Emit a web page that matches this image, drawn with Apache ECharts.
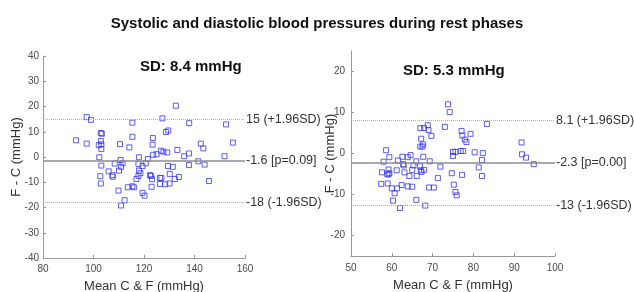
<!DOCTYPE html>
<html>
<head>
<meta charset="utf-8">
<script src="https://cdn.jsdelivr.net/npm/echarts@6/dist/echarts.min.js"></script>
<style>
  html, body { margin: 0; padding: 0; background: #fff; }
  #chart { width: 634px; height: 292px; }
</style>
</head>
<body>
<div id="chart"></div>
<script>
// systolic: mean of C & F vs difference F - C
var sysMean = [93.1, 97.3, 99.0, 97.3, 102.9, 103.3, 102.9, 102.1, 103.1, 103.1, 102.3, 103.1, 102.7, 102.9,
  106.0, 107.5, 107.6, 108.4, 109.9, 110.5, 110.7, 111.5, 110.9, 110.1, 114.2, 115.4, 115.4, 113.6, 115.4,
  116.0, 112.3, 110.9, 118.0, 117.8, 119.4, 120.7, 121.5, 118.0, 118.6, 117.8, 117.0, 119.4, 120.2, 123.0,
  122.4, 122.8, 123.2, 123.5, 123.4, 123.6, 125.0, 126.7, 127.7, 129.2, 126.3, 126.9, 126.3, 128.4, 130.1,
  127.3, 128.7, 129.6, 129.5, 131.4, 130.2, 132.2, 133.8, 132.6, 133.2, 135.9, 137.8, 137.8, 137.9, 141.5,
  142.5, 143.5, 144.0, 145.7, 151.9, 152.5, 155.2];
var sysDiff = [6.6, 15.8, 14.7, 5.3, 9.5, 9.2, 6.3, 4.7, 5.0, 3.2, -0.1, -3.4, -7.6, -10.5,
  -5.7, -7.2, -7.8, -2.6, -13.3, 5.1, -1.2, -2.5, -3.9, -5.4, 3.8, 13.6, 8.0, -12.0, -11.6,
  -12.0, -17.1, -19.2, -0.1, -2.8, -3.6, -2.5, -0.8, -5.4, -6.4, -7.5, -8.7, -14.2, -15.3, -11.8,
  -7.2, -7.5, -8.8, 7.5, 4.9, 0.9, 1.1, 2.5, 2.1, 1.8, -8.3, -8.3, -10.7, -10.8, -10.5,
  15.3, 9.9, 10.5, -3.6, -3.9, -6.7, -8.7, -7.9, 20.3, 2.8, 0.3, 1.4, -3.2, 13.4, -1.7,
  5.3, 3.4, -3.0, -9.5, 0.3, 12.9, 5.7];
var sysLines = [14.9, -1.6, -18.1];
var sysLineLabels = ['15 (+1.96SD)', '-1.6 [p=0.09]', '-18 (-1.96SD)'];
var sysSD = 'SD: 8.4 mmHg';

// diastolic
var diaMean = [57.4, 58.0, 57.6, 58.6, 58.9, 59.2, 59.4, 59.2, 59.4, 59.0, 60.0, 60.3, 60.7, 61.3, 61.2,
  61.5, 62.0, 62.4, 62.6, 62.8, 62.9, 63.1, 63.9, 63.9, 64.3, 64.6, 65.0, 65.0, 65.3, 66.0, 66.1, 66.0,
  66.9, 67.0, 67.2, 67.0, 67.1, 67.3, 67.5, 67.7, 67.7, 67.9, 67.9, 68.2, 68.8, 69.0, 69.1, 69.3, 69.7,
  70.3, 71.3, 71.9, 73.0, 73.8, 74.2, 74.7, 75.0, 75.0, 75.2, 75.6, 75.6, 75.9, 76.9, 77.1, 77.2, 77.3,
  77.5, 77.9, 78.3, 79.3, 80.3, 81.3, 82.1, 82.3, 82.1, 83.3, 91.8, 91.9, 92.9, 94.8];
var diaDiff = [-7.4, -2.0, -4.6, 0.8, -5.1, -5.1, -4.8, -3.9, -0.9, -7.3, -8.5, -11.5, -9.7, -8.5, -4.1,
  -1.7, -13.3, -7.7, -0.8, -2.6, -2.9, -4.6, -0.9, -8.0, -5.5, -0.4, -4.0, -8.1, -2.9, -11.3, -5.5, -1.9,
  -3.1, 6.2, 3.6, 1.7, -4.1, -4.5, 1.7, 2.2, -0.8, 6.2, -4.0, -12.7, 6.9, 5.7, -8.3, -1.9, 4.3,
  -8.3, -6.0, -3.2, 6.5, 12.0, 10.1, -4.8, 0.4, -0.6, -7.6, 0.4, -9.4, -10.2, 0.6, 5.5, -5.2, 4.4,
  0.6, 3.4, 2.8, 4.8, 0.3, -3.4, -1.6, 0.1, -5.5, 7.2, 2.7, -0.2, -1.0, -2.6];
var diaLines = [8.1, -2.3, -12.7];
var diaLineLabels = ['8.1 (+1.96SD)', '-2.3 [p=0.00]', '-13 (-1.96SD)'];
var diaSD = 'SD: 5.3 mmHg';

var diaYTicks = [-20, -10, 0, 10, 20];

function pairs(xs, ys) {
  return xs.map(function (x, i) { return [x, ys[i]]; });
}

function refLines(vals, labels) {
  // upper and lower limit labels sit a little off their dotted lines
  var pads = [[0, 0, 13, 0], [0, 0, 0, 0], [13, 0, 0, 0]];
  return {
    silent: true,
    symbol: 'none',
    data: vals.map(function (v, i) {
      return {
        yAxis: v,
        lineStyle: i === 1
          ? { color: '#8c8c8c', width: 1.5, type: 'solid' }
          : { color: '#b0b0b0', width: 1, type: 'dotted' },
        label: {
          show: true,
          position: 'end',
          distance: 1,
          formatter: labels[i],
          color: '#333',
          fontSize: 12.5,
          fontFamily: 'Liberation Sans',
          padding: pads[i]
        }
      };
    })
  };
}

var axisCommon = {
  axisLine: { show: true, onZero: false, lineStyle: { color: '#999', width: 1 } },
  axisTick: { show: true, inside: true, length: 3, lineStyle: { color: '#999' } },
  axisLabel: { color: '#4a4a4a', fontSize: 10, fontFamily: 'Liberation Sans', margin: 5 },
  splitLine: { show: false },
  nameLocation: 'middle',
  nameMoveOverlap: false,
  nameTextStyle: { color: '#333', fontSize: 13, fontFamily: 'Liberation Sans' }
};

var chart = echarts.init(document.getElementById('chart'));
chart.setOption({
  animation: false,
  title: [
    {
      text: 'Systolic and diastolic blood pressures during rest phases',
      left: 'center', top: 11,
      textStyle: { fontSize: 15, fontWeight: 'bold', color: '#111', fontFamily: 'Liberation Sans' }
    },
    {
      text: sysSD, left: 140, top: 59, padding: 0,
      textStyle: { fontSize: 15, fontWeight: 'bold', color: '#111', fontFamily: 'Liberation Sans' }
    },
    {
      text: diaSD, left: 403, top: 63, padding: 0,
      textStyle: { fontSize: 15, fontWeight: 'bold', color: '#111', fontFamily: 'Liberation Sans' }
    }
  ],
  grid: [
    { left: 43, top: 56, width: 202, height: 202, outerBoundsMode: 'none' },
    { left: 351, top: 51, width: 204, height: 205, outerBoundsMode: 'none' }
  ],
  xAxis: [
    Object.assign({}, axisCommon, {
      gridIndex: 0, type: 'value', min: 80, max: 160, interval: 20,
      name: 'Mean C & F (mmHg)', nameGap: 22,
      axisLabel: Object.assign({}, axisCommon.axisLabel, { margin: 6 })
    }),
    Object.assign({}, axisCommon, {
      gridIndex: 1, type: 'value', min: 50, max: 100, interval: 10,
      name: 'Mean C & F (mmHg)', nameGap: 23,
      axisLabel: Object.assign({}, axisCommon.axisLabel, { margin: 7 })
    })
  ],
  yAxis: [
    Object.assign({}, axisCommon, {
      gridIndex: 0, type: 'value', min: -40, max: 40, interval: 10,
      name: 'F - C (mmHg)', nameGap: 20,
      axisLabel: Object.assign({}, axisCommon.axisLabel, { margin: 4 })
    }),
    Object.assign({}, axisCommon, {
      gridIndex: 1, type: 'value', min: -25, max: 25,
      name: 'F - C (mmHg)', nameGap: 14,
      axisLabel: Object.assign({}, axisCommon.axisLabel, { margin: 6, customValues: diaYTicks }),
      axisTick: Object.assign({}, axisCommon.axisTick, { customValues: diaYTicks })
    })
  ],
  series: [
    {
      type: 'scatter', xAxisIndex: 0, yAxisIndex: 0,
      data: pairs(sysMean, sysDiff),
      symbol: 'rect', symbolSize: 5,
      itemStyle: { color: 'rgba(255,255,255,0)', borderColor: '#3535f0', borderWidth: 1 },
      markLine: refLines(sysLines, sysLineLabels)
    },
    {
      type: 'scatter', xAxisIndex: 1, yAxisIndex: 1,
      data: pairs(diaMean, diaDiff),
      symbol: 'rect', symbolSize: 5,
      itemStyle: { color: 'rgba(255,255,255,0)', borderColor: '#3535f0', borderWidth: 1 },
      markLine: refLines(diaLines, diaLineLabels)
    }
  ]
});
</script>
</body>
</html>
